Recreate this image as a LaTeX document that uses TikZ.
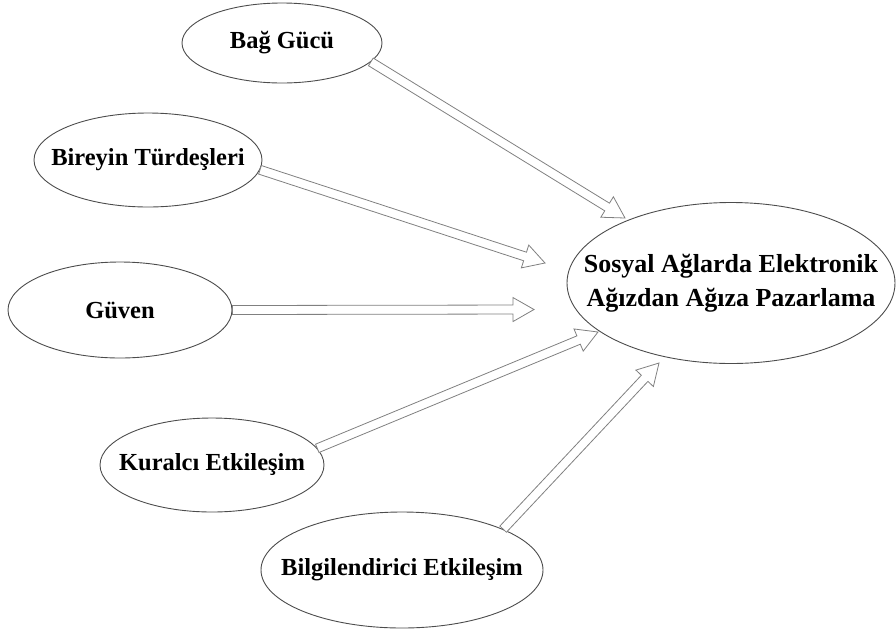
\documentclass[tikz,border=0pt]{standalone}
\usepackage{fontspec}
\setmainfont{Liberation Serif}
\usetikzlibrary{shapes.geometric,calc}
\tikzset{
  ell/.style={draw=black!70, line width=0.9pt, ellipse, inner sep=0pt},
  txt/.style={font=\fontsize{24.5}{28}\selectfont\bfseries, text=black, inner sep=0pt},
  maintxt/.style={font=\fontsize{26}{34}\selectfont\bfseries, text=black, inner sep=0pt, align=center},
  barrow/.style={draw=black!50, line width=0.8pt, fill=white, line join=miter},
}
\newcommand{\blockarrow}[2]{%
  \draw[barrow] ($(#1)!4.5pt!90:(#2)$)
    -- ($(#2)!21pt!(#1)!4.5pt!-90:(#1)$)
    -- ($(#2)!21pt!(#1)!12pt!-90:(#1)$)
    -- (#2)
    -- ($(#2)!21pt!(#1)!12pt!90:(#1)$)
    -- ($(#2)!21pt!(#1)!4.5pt!90:(#1)$)
    -- ($(#1)!4.5pt!-90:(#2)$) -- cycle;}
\begin{document}
\begin{tikzpicture}[x=1pt,y=-1pt]
\useasboundingbox (0,0) rectangle (896,635);
\node[ell, minimum width=200pt, minimum height=80pt, label={[txt]center:Bağ Gücü}] (bag) at (282,43) {};
\node[ell, minimum width=228pt, minimum height=94pt, label={[txt]center:Bireyin Türdeşleri}] (bir) at (148,160) {};
\node[ell, minimum width=224pt, minimum height=96pt, label={[txt]center:Güven}] (guv) at (120,310) {};
\node[ell, minimum width=224pt, minimum height=94pt, label={[txt]center:Kuralcı Etkileşim}] (kur) at (212,465) {};
\node[ell, minimum width=282pt, minimum height=116pt, label={[txt]center:Bilgilendirici Etkileşim}] (bil) at (402,570) {};
\node[ell, minimum width=328pt, minimum height=161pt, label={[maintxt]center:Sosyal Ağlarda Elektronik\\Ağızdan Ağıza Pazarlama}] (main) at (731,283) {};
\coordinate (t1) at (625,218);
\coordinate (t2) at (545,263);
\coordinate (t3) at (534,309.5);
\coordinate (t4) at (598,332);
\coordinate (t5) at (659,363);
\blockarrow{bag.-12}{t1}
\blockarrow{bir.-5}{t2}
\blockarrow{guv.0}{t3}
\blockarrow{kur.9.4}{t4}
\blockarrow{bil.22.6}{t5}
\end{tikzpicture}
\end{document}
